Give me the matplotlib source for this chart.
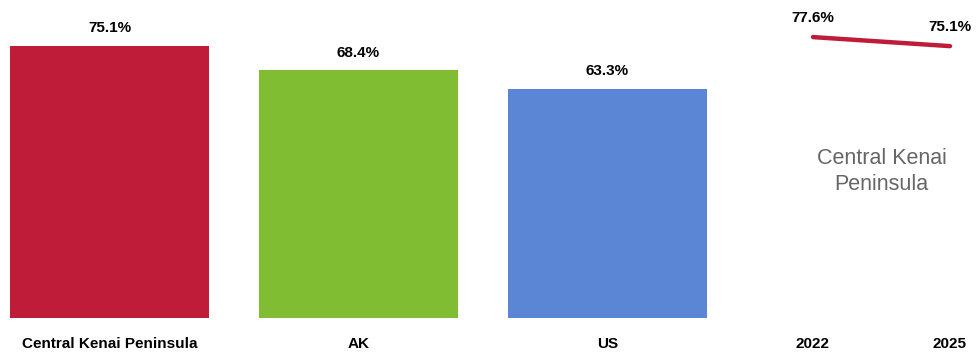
import matplotlib
matplotlib.use('Agg')
import matplotlib.pyplot as plt

# dados
categorias = ['Central Kenai Peninsula', 'AK', 'US']
valores = [75.1, 68.4, 63.3]
cores = ['#BE1C38', '#80BD32', '#5B86D6']

anos = ['2022', '2025']
valores_linha = [77.6, 75.1]
titulo_linha = 'Central Kenai\nPeninsula'

fonte = ['Liberation Sans', 'DejaVu Sans']

fig = plt.figure(figsize=(9.78, 3.56), dpi=100)
W, H = 978, 356
base = 318  # linha de base em px (a partir do topo)
ymax = base / 3.62

# grafico de barras
ax = fig.add_axes([10 / W, (H - base) / H, 697 / W, base / H])
x = list(range(len(categorias)))
ax.bar(x, valores, width=0.8, color=cores)
ax.set_xlim(-0.4, 2.4)
ax.set_ylim(0, ymax)
for i, v in enumerate(valores):
    ax.text(i, v + 3.0, f'{v}%', ha='center', va='bottom', fontsize=11,
            fontweight='bold', family=fonte)
ax.set_xticks(x)
ax.set_xticklabels(categorias, fontsize=11, fontweight='bold', family=fonte)
ax.tick_params(axis='x', length=0, pad=14)
ax.set_yticks([])
for s in ax.spines.values():
    s.set_visible(False)

# linha 2022-2025
ax2 = fig.add_axes([760 / W, (H - base) / H, 218 / W, base / H])
xl = list(range(len(anos)))
ax2.plot(xl, valores_linha, color='#BE1C38', linewidth=3.2, solid_capstyle='round')
ax2.set_xlim(-53 / 137, 1 + 28 / 137)
ax2.set_ylim(0, ymax)
for i, v in enumerate(valores_linha):
    ax2.text(xl[i], v + 3.4, f'{v}%', ha='center', va='bottom',
             fontsize=11, fontweight='bold', family=fonte)
ax2.text(0.5, 40.5, titulo_linha, ha='center', va='center', fontsize=15.5,
         color='#666666', family=fonte, linespacing=1.3)
ax2.set_xticks(xl)
ax2.set_xticklabels(anos, fontsize=11, fontweight='bold', family=fonte)
ax2.tick_params(axis='x', length=0, pad=14)
ax2.set_yticks([])
for s in ax2.spines.values():
    s.set_visible(False)

plt.savefig('out.png', dpi=100)
